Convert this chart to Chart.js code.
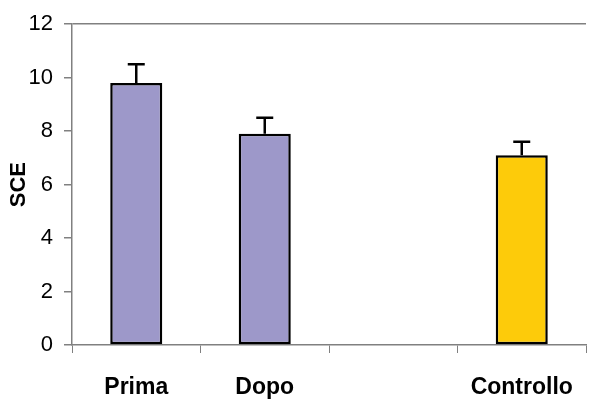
<!DOCTYPE html>
<html>
<head>
<meta charset="utf-8">
<script src="https://cdn.jsdelivr.net/npm/chart.js@4/dist/chart.umd.min.js"></script>
<style>
  html, body { margin: 0; padding: 0; background: #fff; }
  #wrap { width: 589px; height: 399px; }
</style>
</head>
<body>
<div id="wrap"><canvas id="sceChart"></canvas></div>
<script>
// data
const categories = ['Prima', 'Dopo', '', 'Controllo'];
const sceValues = [9.8, 7.9, null, 7.1];
const sceErrors = [0.7, 0.6, null, 0.5];
const barColors = ['#9D98C9', '#9D98C9', '#9D98C9', '#FDCB0A'];
const yTicks = [0, 2, 4, 6, 8, 10, 12];

// draws the upper error bars from the y scale
const errorBars = {
    id: 'errorBars',
    afterDatasetsDraw(chart) {
        const ctx = chart.ctx;
        const meta = chart.getDatasetMeta(0);
        const y = chart.scales.y;
        ctx.save();
        ctx.strokeStyle = '#000';
        ctx.lineWidth = 2.5;
        meta.data.forEach((bar, i) => {
            if (sceValues[i] == null) return;
            const top = y.getPixelForValue(sceValues[i]);
            const hi = y.getPixelForValue(sceValues[i] + sceErrors[i]);
            ctx.beginPath();
            ctx.moveTo(bar.x, top);
            ctx.lineTo(bar.x, hi);
            ctx.moveTo(bar.x - 8.5, hi);
            ctx.lineTo(bar.x + 8.5, hi);
            ctx.stroke();
        });
        ctx.restore();
    }
};

function initializeSceChart() {
    const ctx = document.getElementById('sceChart').getContext('2d');
    new Chart(ctx, {
        type: 'bar',
        data: {
            labels: categories,
            datasets: [{
                data: sceValues,
                backgroundColor: barColors,
                borderColor: '#000',
                borderWidth: 2.5,
                borderSkipped: false,
                barPercentage: 0.405,
                categoryPercentage: 1
            }]
        },
        options: {
            responsive: true,
            maintainAspectRatio: false,
            animation: false,
            layout: { padding: { top: 22, right: 3, left: 0, bottom: 0 } },
            scales: {
                x: {
                    afterFit: s => { s.height = 54; s.paddingLeft = 0; s.paddingRight = 0; },
                    border: { color: '#808080', width: 1.5 },
                    grid: { offset: true, drawOnChartArea: false, tickLength: 8, color: '#808080' },
                    ticks: {
                        color: '#000',
                        padding: 21,
                        font: { family: 'Liberation Sans, Arial', size: 23, weight: 'bold' }
                    }
                },
                y: {
                    min: 0,
                    max: 12,
                    afterFit: s => { s.width = 72; },
                    afterBuildTicks: s => { s.ticks = yTicks.map(v => ({ value: v })); },
                    border: { color: '#808080', width: 1.5 },
                    grid: {
                        color: c => (c.tick && c.tick.value === 12 ? '#808080' : 'rgba(0,0,0,0)'),
                        tickColor: '#808080',
                        tickLength: 8,
                        lineWidth: 1.5
                    },
                    ticks: {
                        color: '#000',
                        padding: 11,
                        font: { family: 'Liberation Sans, Arial', size: 22 }
                    },
                    title: {
                        display: true,
                        text: 'SCE',
                        color: '#000',
                        padding: { top: 6, bottom: 0 },
                        font: { family: 'Liberation Sans, Arial', size: 22, weight: 'bold' }
                    }
                }
            },
            plugins: {
                legend: { display: false },
                tooltip: { enabled: false }
            }
        },
        plugins: [errorBars]
    });
}

document.addEventListener('DOMContentLoaded', () => {
    initializeSceChart();
});
</script>
</body>
</html>
